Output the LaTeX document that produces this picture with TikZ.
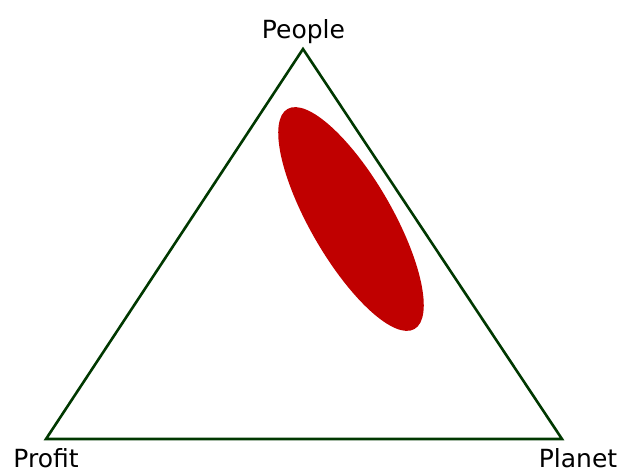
\documentclass[tikz,border=0pt]{standalone}
\usepackage{fontspec}
\setmainfont{DejaVu Sans}
\definecolor{edgegreen}{RGB}{0,56,0}
\definecolor{blobred}{RGB}{192,0,0}

\begin{document}
\begin{tikzpicture}[x=1pt,y=1pt,
    corner/.style={font=\fontsize{25}{29}\selectfont,anchor=base,inner sep=0pt}]
    \useasboundingbox (0,0) rectangle (619,-471);
    \coordinate (top) at (303,-49);
    \coordinate (left) at (46,-439);
    \coordinate (right) at (562,-439);
    \draw[edgegreen,line width=2.6pt] (top) -- (right) -- (left) -- cycle;
    \fill[blobred,rotate around={-60:(351,-219)}] (351,-219) ellipse (127pt and 41pt);
    \node[corner] (people) at (303.5,-38) {People};
    \node[corner] (profit) at (46,-467) {Profit};
    \node[corner] (planet) at (578,-467) {Planet};
\end{tikzpicture}
\end{document}
